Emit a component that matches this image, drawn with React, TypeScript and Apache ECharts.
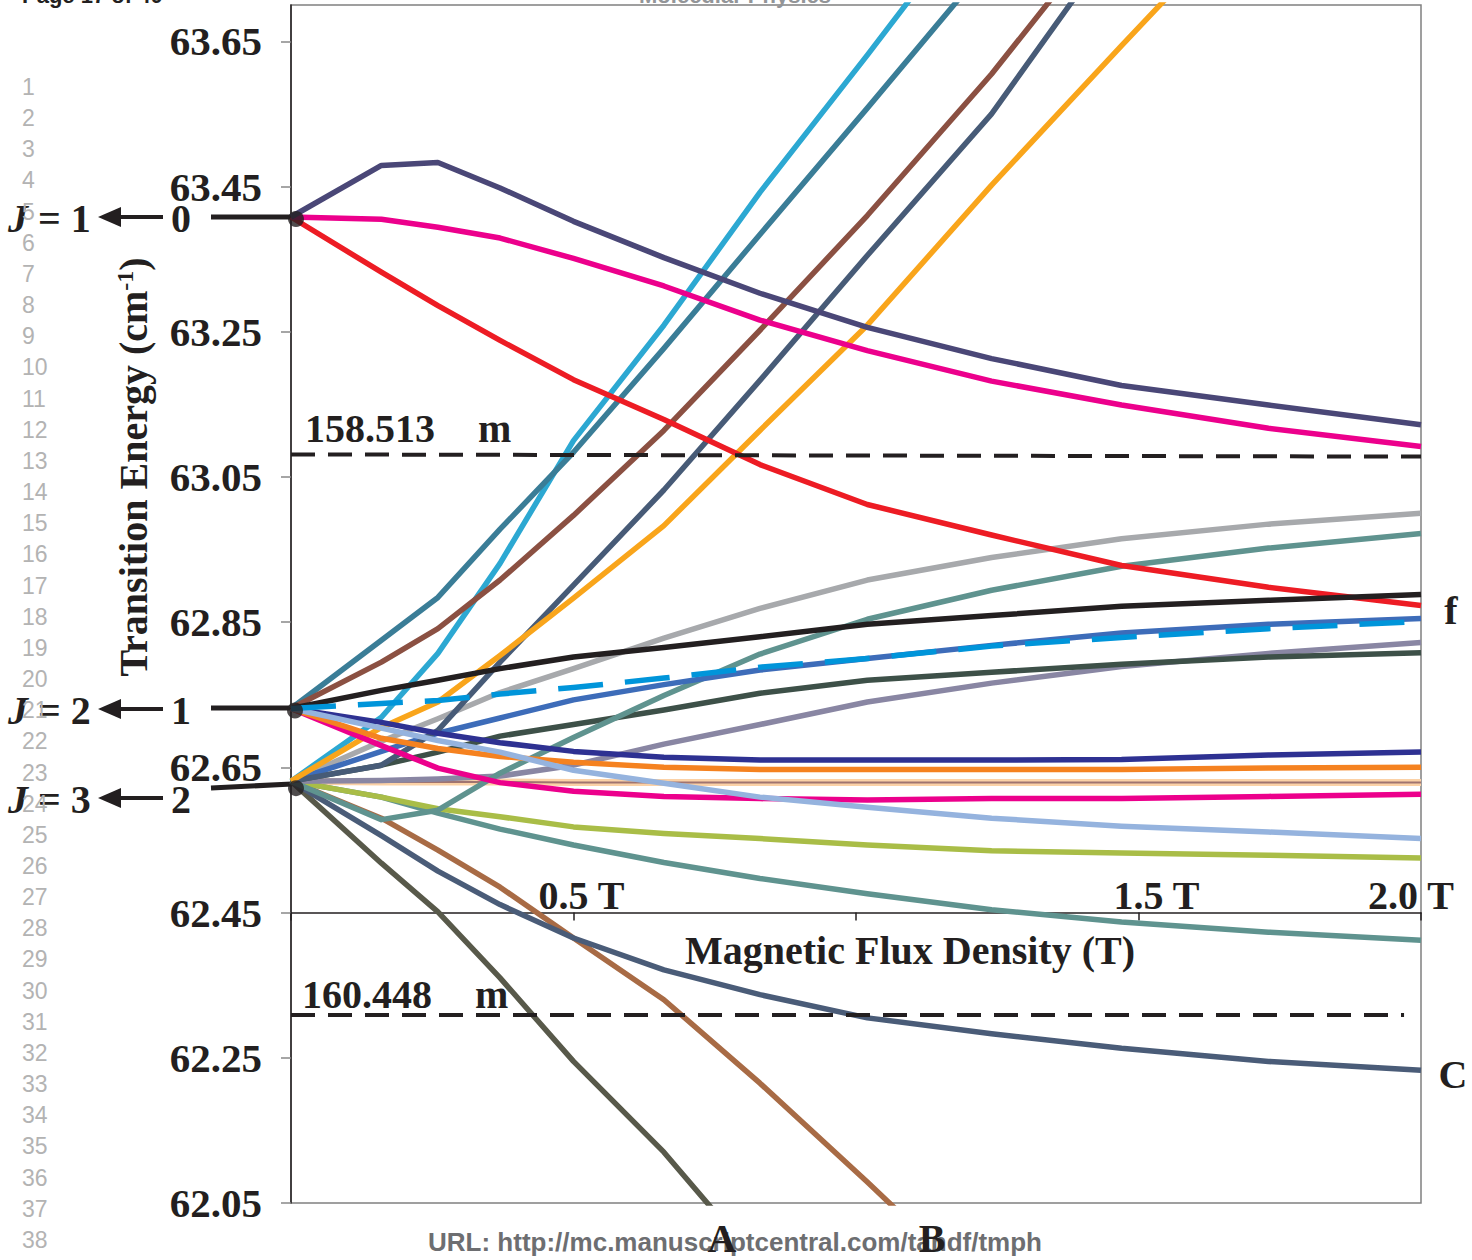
import React, { useEffect, useRef } from "react";
import * as echarts from "echarts";

// Magnetic flux density (T) at which every level was computed
const fieldT = [0, 0.16, 0.26, 0.37, 0.5, 0.66, 0.83, 1.02, 1.24, 1.47, 1.73, 2.0];

// J = 1 <- 0 branch (cm-1)
const j10Top = [63.408, 63.479, 63.483, 63.448, 63.402, 63.352, 63.303, 63.256, 63.213, 63.176, 63.149, 63.122];
const j10Mid = [63.408, 63.405, 63.394, 63.379, 63.351, 63.313, 63.266, 63.224, 63.182, 63.149, 63.117, 63.092];
const j10Low = [63.408, 63.332, 63.286, 63.238, 63.184, 63.129, 63.067, 63.012, 62.97, 62.928, 62.898, 62.873];

// J = 2 <- 1 branch
const j21Black = [62.731, 62.756, 62.77, 62.786, 62.802, 62.815, 62.83, 62.847, 62.859, 62.872, 62.88, 62.888];
const j21Dashed = [62.731, 62.738, 62.742, 62.751, 62.76, 62.773, 62.788, 62.8, 62.817, 62.829, 62.841, 62.851];
const j21Navy = [62.731, 62.712, 62.697, 62.684, 62.672, 62.664, 62.66, 62.66, 62.66, 62.661, 62.667, 62.671];
const j21Orange = [62.731, 62.69, 62.676, 62.665, 62.657, 62.65, 62.647, 62.647, 62.647, 62.647, 62.649, 62.65];
const j21LightBlue = [62.731, 62.704, 62.687, 62.671, 62.646, 62.628, 62.609, 62.595, 62.58, 62.569, 62.561, 62.552];
const j21Magenta = [62.731, 62.68, 62.649, 62.629, 62.617, 62.61, 62.607, 62.605, 62.607, 62.607, 62.61, 62.613];
const j21TealBlue = [62.731, 62.825, 62.884, 62.978, 63.084, 63.227, 63.384, 63.558, 63.762];
const j21Brown = [62.731, 62.795, 62.841, 62.908, 62.997, 63.114, 63.252, 63.41, 63.605, 63.83];

// J = 3 <- 2 branch
const j32Cyan = [62.631, 62.719, 62.807, 62.931, 63.1, 63.259, 63.442, 63.631, 63.855];
const j32Slate = [62.631, 62.653, 62.701, 62.795, 62.901, 63.032, 63.183, 63.355, 63.55, 63.8];
const j32Amber = [62.631, 62.705, 62.74, 62.804, 62.883, 62.983, 63.114, 63.259, 63.452, 63.644, 63.858];
const j32Blue = [62.631, 62.672, 62.697, 62.718, 62.743, 62.764, 62.784, 62.8, 62.818, 62.835, 62.847, 62.855];
const j32Gray = [62.631, 62.686, 62.717, 62.753, 62.786, 62.828, 62.869, 62.908, 62.939, 62.965, 62.985, 63.0];
const j32Teal = [62.631, 62.578, 62.591, 62.642, 62.691, 62.749, 62.806, 62.854, 62.894, 62.927, 62.952, 62.972];
const j32DarkGreen = [62.631, 62.653, 62.671, 62.693, 62.709, 62.729, 62.752, 62.77, 62.781, 62.792, 62.802, 62.808];
const j32Lilac = [62.631, 62.632, 62.634, 62.638, 62.653, 62.682, 62.709, 62.74, 62.766, 62.789, 62.807, 62.822];
const j32Flat = [62.631, 62.63, 62.63, 62.63, 62.629, 62.629, 62.629, 62.629, 62.629, 62.629, 62.629, 62.629];
const j32Olive = [62.631, 62.609, 62.593, 62.582, 62.568, 62.559, 62.552, 62.543, 62.535, 62.532, 62.529, 62.525];
const j32TealLow = [62.631, 62.609, 62.587, 62.565, 62.543, 62.519, 62.497, 62.476, 62.454, 62.437, 62.423, 62.412];
const j32C = [62.631, 62.556, 62.507, 62.461, 62.415, 62.371, 62.337, 62.305, 62.283, 62.263, 62.245, 62.233];
const j32B = [62.631, 62.58, 62.536, 62.485, 62.415, 62.33, 62.215, 62.079, 61.916];
const j32A = [62.631, 62.518, 62.451, 62.36, 62.245, 62.12, 61.965];

// zero-field levels (dots) and laser lines (158.513 um, 160.448 um)
const zeroFieldLevels = [63.408, 62.731, 62.631];
const laserLevels = [63.08, 62.309];
const laserLabels = ["158.513", "160.448"];

// axis settings
const yMin = 62.05;
const yMax = 63.7;
const yStep = 0.2;
const xCross = 62.45; // horizontal axis crosses here
const xTickValues = [0.5, 1.5, 2.0];
const xTickLabels = ["0.5 T", "1.5 T", "2.0 T"];

const SERIF = '"Liberation Serif", "Times New Roman", serif';
const SANS = '"Liberation Sans", Arial, sans-serif';
const INK = "#231F20";

const toPairs = (ys: number[]) => ys.map((y, i) => [fieldT[i], +(y - xCross).toFixed(4)]);

type LineDef = { data: number[]; color: string; width?: number; dash?: boolean };
const lines: LineDef[] = [
  { data: j32Flat, color: "#FBD1A6", width: 7 },
  { data: j32Flat, color: "#A07470", width: 2 },
  { data: j32A, color: "#58594A" },
  { data: j32B, color: "#A86B45" },
  { data: j32C, color: "#4A5C78" },
  { data: j32TealLow, color: "#5F938F" },
  { data: j32Olive, color: "#A9BD47" },
  { data: j32Lilac, color: "#8986A3" },
  { data: j32DarkGreen, color: "#3D5048" },
  { data: j32Teal, color: "#5F938F" },
  { data: j32Gray, color: "#A7A9AC" },
  { data: j32Blue, color: "#3D6CB9" },
  { data: j32Cyan, color: "#2CA8D2" },
  { data: j21TealBlue, color: "#3A7D97" },
  { data: j21Brown, color: "#8B5042" },
  { data: j32Slate, color: "#475B77" },
  { data: j32Amber, color: "#F9A51B" },
  { data: j21Magenta, color: "#EC008C" },
  { data: j21Orange, color: "#F58220" },
  { data: j21Navy, color: "#2E3192" },
  { data: j21LightBlue, color: "#95B3DE" },
  { data: j10Low, color: "#ED1C24" },
  { data: j10Mid, color: "#EC008C" },
  { data: j10Top, color: "#4A4777" },
  { data: j21Black, color: INK },
  { data: j21Dashed, color: "#0095DA", dash: true },
];

function txt(text: string, x: number, y: number, extra: any = {}) {
  return {
    type: "text",
    x,
    y,
    silent: true,
    style: {
      text,
      fill: INK,
      fontFamily: SERIF,
      fontWeight: "bold",
      fontSize: 40,
      align: "center",
      verticalAlign: "middle",
      ...extra,
    },
  };
}

function buildGraphic(tickPx: number[][]) {
  const g: any[] = [];
  // header (cut off at the top of the page)
  g.push(txt("Page 17 of 40", 22, 6, { fontFamily: SANS, fontSize: 22, align: "left", verticalAlign: "bottom" }));
  g.push(txt("Molecular Physics", 735, 6, { fontFamily: SANS, fontSize: 22, fill: "#939598", verticalAlign: "bottom" }));

  // transition labels on the left
  const trans = [
    { y: 218, up: "1", low: "0", ly0: 217, ly1: 217 },
    { y: 710, up: "2", low: "1", ly0: 708, ly1: 708 },
    { y: 799, up: "3", low: "2", ly0: 788, ly1: 784 },
  ];
  trans.forEach((t) => {
    g.push({
      type: "text",
      x: 8,
      y: t.y,
      silent: true,
      style: {
        text: "{j|J} = " + t.up,
        fill: INK,
        fontFamily: SERIF,
        fontWeight: "bold",
        fontSize: 40,
        align: "left",
        verticalAlign: "middle",
        rich: { j: { fontStyle: "italic", fontFamily: SERIF, fontWeight: "bold", fontSize: 40, fill: INK } },
      },
    });
    g.push({ type: "polygon", silent: true, shape: { points: [[98, t.y - 1], [121, t.y - 11], [121, t.y + 9]] }, style: { fill: INK } });
    g.push({ type: "rect", silent: true, shape: { x: 119, y: t.y - 3, width: 44, height: 4 }, style: { fill: INK } });
    g.push(txt(t.low, 181, t.y));
    g.push({ type: "line", silent: true, shape: { x1: 211, y1: t.ly0, x2: 292, y2: t.ly1 }, style: { stroke: INK, lineWidth: 5 } });
  });

  // manuscript line numbers
  for (let n = 1; n <= 38; n++) {
    g.push(txt(String(n), 22, 87 + (n - 1) * 31.16, { fontFamily: SANS, fontWeight: "normal", fontSize: 23, fill: "#B3B3B3", align: "left" }));
  }

  // axis titles
  g.push({
    type: "text",
    x: 133,
    y: 467,
    rotation: Math.PI / 2,
    silent: true,
    style: {
      text: "Transition Energy (cm{sup|-1})",
      fill: INK,
      fontFamily: SERIF,
      fontWeight: "bold",
      fontSize: 40,
      align: "center",
      verticalAlign: "middle",
      rich: { sup: { fontSize: 24, fontFamily: SERIF, fontWeight: "bold", fill: INK, verticalAlign: "top", padding: [0, 0, 14, 0] } },
    },
  });
  g.push(txt("Magnetic Flux Density (T)", 910, 950));

  // tick labels of the crossing horizontal axis (placed at the axis' own tick pixels)
  const nudges = [8, 18, -10];
  tickPx.forEach((p, i) => {
    g.push(txt(xTickLabels[i], p[0] + nudges[i], p[1] + 3, { verticalAlign: "bottom" }));
  });

  // laser line labels
  g.push(txt(laserLabels[0], 305, 428, { align: "left" }));
  g.push(txt("m", 478, 428, { align: "left" }));
  g.push(txt(laserLabels[1], 302, 994, { align: "left" }));
  g.push(txt("m", 475, 994, { align: "left" }));

  // URL footer
  g.push(txt("URL: http://mc.manuscriptcentral.com/tandf/tmph", 735, 1242, { fontFamily: SANS, fontSize: 26, fill: "#6D6E71" }));

  // branch labels
  g.push(txt("f", 1451, 610));
  g.push(txt("C", 1453, 1074));
  g.push(txt("A", 722, 1238));
  g.push(txt("B", 932, 1238));
  return g;
}

function buildOption() {
  const series: any[] = lines.map((l, i) => ({
    type: "line",
    data: toPairs(l.data),
    symbol: "none",
    silent: true,
    z: 2 + i * 0.01,
    lineStyle: {
      color: l.color,
      width: l.width ?? 5.5,
      type: l.dash ? [45, 22] : "solid",
      cap: "butt",
      join: "round",
    },
  }));
  // laser wavelength lines
  series.push({
    type: "line",
    data: [],
    symbol: "none",
    silent: true,
    markLine: {
      silent: true,
      symbol: ["none", "none"],
      label: { show: false },
      lineStyle: { color: INK, width: 4, type: [24, 13] },
      data: [
        [{ coord: [0, +(laserLevels[0] + 0.001 - xCross).toFixed(4)] }, { coord: [2, +(laserLevels[0] - 0.002 - xCross).toFixed(4)] }],
        [{ coord: [0, +(laserLevels[1] - xCross).toFixed(4)] }, { coord: [1.97, +(laserLevels[1] - xCross).toFixed(4)] }],
      ],
    },
  });
  // zero-field dots
  const offs = [[5, 2], [4, 2], [5, 7]];
  series.push({
    type: "scatter",
    silent: true,
    clip: false,
    z: 5,
    symbolSize: 16,
    itemStyle: { color: INK },
    data: zeroFieldLevels.map((v, i) => ({ value: [0, +(v - xCross).toFixed(4)], symbolOffset: offs[i] })),
  });

  return {
    animation: false,
    backgroundColor: "#ffffff",
    grid: { left: 291, right: 51, top: 5, bottom: 57, show: true, borderColor: "#808080", borderWidth: 1.5 },
    xAxis: {
      type: "value",
      min: 0,
      max: 2,
      interval: 0.5,
      axisLine: { onZero: true, lineStyle: { color: INK, width: 1.5 } },
      axisTick: { show: true, length: 8, inside: false, lineStyle: { color: INK, width: 1.5 } },
      splitLine: { show: false },
      axisLabel: { show: false },
    },
    yAxis: {
      type: "value",
      min: +(yMin - xCross).toFixed(4),
      max: +(yMax - xCross).toFixed(4),
      interval: yStep,
      axisLine: { show: true, onZero: false, lineStyle: { color: INK, width: 1.5 } },
      axisTick: { show: true, length: 10, lineStyle: { color: "#888888", width: 1.5 } },
      splitLine: { show: false },
      axisLabel: {
        margin: 29,
        color: INK,
        fontFamily: SERIF,
        fontWeight: "bold",
        fontSize: 41,
        showMaxLabel: false,
        formatter: (v: number) => {
          const k = (v - (yMin - xCross)) / yStep;
          if (Math.abs(k - Math.round(k)) > 1e-6) return "";
          return (v + xCross).toFixed(2);
        },
      },
    },
    series,
  };
}

export default function App() {
  const ref = useRef<HTMLDivElement>(null);
  useEffect(() => {
    document.body.style.margin = "0";
    const chart = echarts.init(ref.current!, null, { renderer: "svg" });
    chart.setOption(buildOption() as any);
    const tickPx = xTickValues.map((v) => chart.convertToPixel({ gridIndex: 0 }, [v, 0]) as number[]);
    chart.setOption({ graphic: buildGraphic(tickPx) } as any);
    return () => chart.dispose();
  }, []);
  return <div ref={ref} style={{ width: 1472, height: 1260, position: "absolute", left: 0, top: 0 }} />;
}
